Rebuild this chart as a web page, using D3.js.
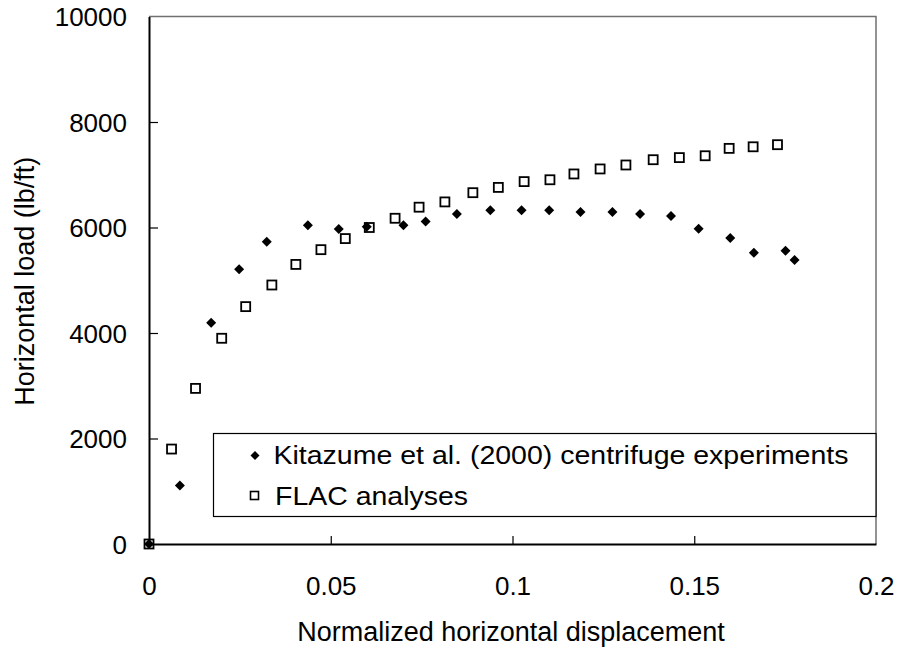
<!DOCTYPE html>
<html>
<head>
<meta charset="utf-8">
<script src="https://cdn.jsdelivr.net/npm/d3@7"></script>
<style>
  html, body { margin: 0; padding: 0; background: #fff; }
  svg { display: block; font-family: "Liberation Sans", Arial, sans-serif; }
</style>
</head>
<body>
<div id="chart"></div>
<script>
// 数据：Kitazume 离心试验 与 FLAC 分析
const kitazumeX = [0, 0.0085, 0.0171, 0.0248, 0.0324, 0.0437, 0.0522, 0.0599, 0.0700, 0.0761, 0.0847, 0.0939, 0.1025, 0.1101, 0.1187, 0.1275, 0.1351, 0.1436, 0.1512, 0.1599, 0.1664, 0.1751, 0.1776];
const kitazumeY = [0, 1110, 4195, 5210, 5730, 6045, 5970, 6015, 6045, 6115, 6255, 6325, 6325, 6325, 6295, 6295, 6255, 6220, 5975, 5800, 5520, 5560, 5385];

const flacX = [0, 0.0062, 0.0128, 0.0200, 0.0266, 0.0338, 0.0404, 0.0473, 0.0540, 0.0606, 0.0677, 0.0743, 0.0814, 0.0891, 0.0961, 0.1032, 0.1103, 0.1169, 0.1241, 0.1312, 0.1387, 0.1459, 0.1530, 0.1596, 0.1662, 0.1729];
const flacY = [0, 1800, 2950, 3900, 4500, 4910, 5300, 5580, 5790, 6000, 6175, 6385, 6485, 6660, 6760, 6870, 6905, 7015, 7110, 7185, 7285, 7325, 7360, 7500, 7530, 7570];

const xTicks = [0, 0.05, 0.1, 0.15, 0.2];
const yTicks = [0, 2000, 4000, 6000, 8000, 10000];
const legendLabels = ["Kitazume et al. (2000) centrifuge experiments", "FLAC analyses"];

function drawChart() {
    const width = 899, height = 648;
    const margin = { top: 16.5, right: 23, bottom: 104, left: 149 };
    const fontSize = 26;

    const svg = d3.select("#chart").append("svg").attr("width", width).attr("height", height);

    const x = d3.scaleLinear().domain([0, 0.2]).range([margin.left, width - margin.right]);
    const y = d3.scaleLinear().domain([0, 10000]).range([height - margin.bottom, margin.top]);

    // 绘图区边框（上、右为灰色）
    svg.append("path")
        .attr("d", `M${x(0)},${y(10000)}H${x(0.2)}V${y(0)}`)
        .attr("fill", "none").attr("stroke", "#707070").attr("stroke-width", 1.5);

    // 坐标轴（刻度朝内）
    const yAxis = svg.append("g").attr("transform", `translate(${x(0)},0)`)
        .call(d3.axisLeft(y).tickValues(yTicks).tickSizeInner(-9).tickSizeOuter(0).tickPadding(22).tickFormat(d3.format("d")));
    const xAxis = svg.append("g").attr("transform", `translate(0,${y(0)})`)
        .call(d3.axisBottom(x).tickValues(xTicks).tickSizeInner(-8).tickSizeOuter(0).tickPadding(32.5).tickFormat(d => d === 0 ? "0" : String(d)));

    [xAxis, yAxis].forEach(g => {
        g.attr("font-family", null).attr("font-size", null);
        g.select(".domain").attr("stroke", "#000").attr("stroke-width", 2);
        g.selectAll(".tick line").attr("stroke", "#000").attr("stroke-width", 1.2);
        g.selectAll(".tick text").attr("fill", "#000").style("font-size", fontSize + "px");
    });
    yAxis.selectAll(".tick text").attr("dy", "0.36em");
    xAxis.selectAll(".tick line").filter(d => d === 0 || d === 0.2).remove();
    yAxis.selectAll(".tick line").filter(d => d === 0 || d === 10000).remove();

    // 轴标题
    svg.append("text")
        .attr("x", 511).attr("y", 641)
        .attr("text-anchor", "middle").style("font-size", "27px")
        .text("Normalized horizontal displacement");
    svg.append("text")
        .attr("transform", `translate(33.5,${(y(0) + y(10000)) / 2 + 1}) rotate(-90)`)
        .attr("text-anchor", "middle").style("font-size", "27px")
        .text("Horizontal load (lb/ft)");

    const diamond = s => `M0,${-s}L${s},0L0,${s}L${-s},0Z`;

    // 图例（文字横向略拉伸）
    const lg = svg.append("g");
    lg.append("rect")
        .attr("x", 213.5).attr("y", 433.5).attr("width", x(0.2) - 213.5).attr("height", 83)
        .attr("fill", "#fff").attr("stroke", "#000").attr("stroke-width", 1.2);
    lg.append("path").attr("d", diamond(4.5)).attr("transform", "translate(255,455.5)").attr("fill", "#000");
    lg.append("rect").attr("x", 250.5).attr("y", 491.5).attr("width", 8).attr("height", 8)
        .attr("fill", "#fff").attr("stroke", "#000").attr("stroke-width", 1.6);
    const textLens = [575, 193];
    legendLabels.forEach((t, i) => {
        lg.append("text").attr("x", i === 0 ? 273.5 : 275).attr("y", 463.5 + i * 41.5)
            .attr("textLength", textLens[i]).attr("lengthAdjust", "spacingAndGlyphs")
            .style("font-size", fontSize + "px").text(t);
    });

    // FLAC 空心方块
    const flac = flacX.map((d, i) => ({ x: d, y: flacY[i] }));
    svg.append("g").selectAll("rect").data(flac).join("rect")
        .attr("x", d => x(d.x) - 4.5).attr("y", d => y(d.y) - 4.5)
        .attr("width", 9).attr("height", 9)
        .attr("fill", "none").attr("stroke", "#000").attr("stroke-width", 1.8);

    // Kitazume 实心菱形
    const kit = kitazumeX.map((d, i) => ({ x: d, y: kitazumeY[i] }));
    svg.append("g").selectAll("path").data(kit).join("path")
        .attr("d", diamond(5))
        .attr("transform", d => `translate(${x(d.x)},${y(d.y)})`)
        .attr("fill", "#000");
}

drawChart();
</script>
</body>
</html>
